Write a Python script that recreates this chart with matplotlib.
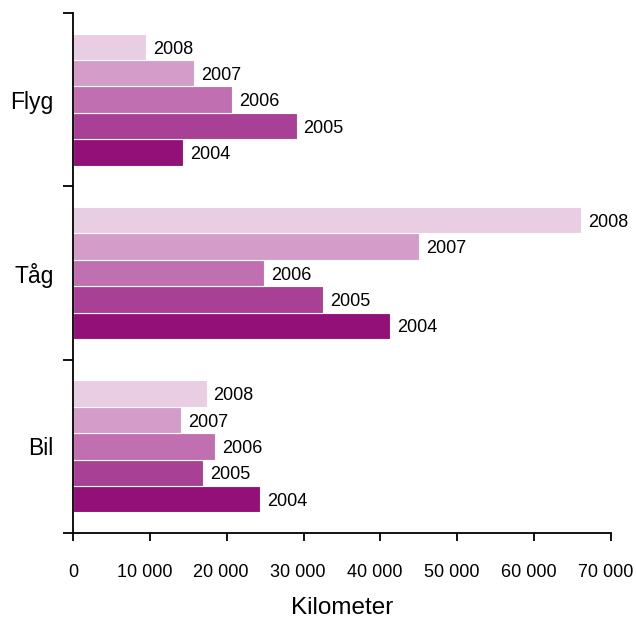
import numpy as np
import matplotlib.pyplot as plt
import matplotlib.transforms as mtransforms
from matplotlib.ticker import FuncFormatter

plt.rcParams['font.family'] = ['Liberation Sans', 'DejaVu Sans']

# Kategorier uppifrån och ned: Flyg, Tåg, Bil
categories = ["Bil", "Tåg", "Flyg"]
years = ["2004", "2005", "2006", "2007", "2008"]
colors = ["#921078", "#a84196", "#c070b0", "#d49cc8", "#e9cee3"]

# Kilometer per år och kategori (Bil, Tåg, Flyg)
km_2004 = [24370, 41240, 14310]
km_2005 = [16910, 32570, 29100]
km_2006 = [18520, 24850, 20650]
km_2007 = [14050, 45020, 15740]
km_2008 = [17390, 66100, 9460]
values = [km_2004, km_2005, km_2006, km_2007, km_2008]

fig = plt.figure(figsize=(6.36, 6.19), dpi=100)
ax = fig.add_axes([73 / 636, 86 / 619, 538 / 636, 520 / 619])

y = np.arange(len(categories))
h = 0.152
for i, (yr, vals, c) in enumerate(zip(years, values, colors)):
    pos = y + (i - 2) * h
    ax.barh(pos, vals, height=h, color=c, edgecolor="white", linewidth=0.8)
    for p, v in zip(pos, vals):
        ax.annotate(yr, (v, p), xytext=(5, -1.5), textcoords="offset points",
                    ha="left", va="center", fontsize=13)

ax.set_xlim(0, 70000)
ax.set_ylim(-0.5, 2.5)
ax.set_xticks(np.arange(0, 70001, 10000))
ax.xaxis.set_major_formatter(FuncFormatter(lambda v, _: f"{int(v):,}".replace(",", " ")))
ax.set_yticks(y)
ax.set_yticklabels(categories, fontsize=16.5)
ax.set_yticks(np.arange(-0.5, 3.0, 1.0), minor=True)

ax.tick_params(axis="y", which="major", length=0, pad=14)
ax.tick_params(axis="y", which="minor", length=7, width=1.3)
ax.tick_params(axis="x", length=6, width=1.3, labelsize=13, pad=16)
ax.set_xlabel("Kilometer", fontsize=17.5, labelpad=12)

# tick-etiketterna ligger lite till vänster om strecken i originalet
shift = mtransforms.ScaledTranslation(-4 / 72, 0, fig.dpi_scale_trans)
for lbl in ax.get_xticklabels():
    if lbl.get_text() != "0":
        lbl.set_transform(lbl.get_transform() + shift)

for s in ["top", "right"]:
    ax.spines[s].set_visible(False)
for s in ["left", "bottom"]:
    ax.spines[s].set_linewidth(1.3)

fig.savefig("out.png", dpi=100)
